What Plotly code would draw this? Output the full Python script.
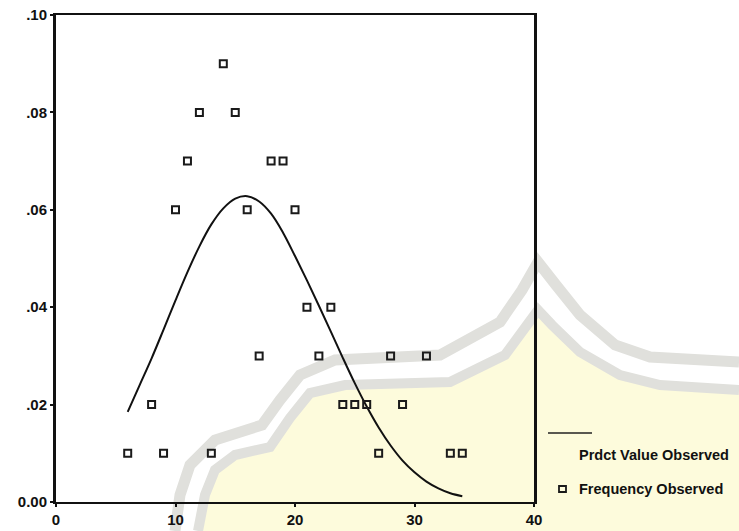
import plotly.graph_objects as go

# Observed relative frequencies
freq_x = [6, 9, 13, 27, 33, 34,
          8, 24, 25, 26, 29,
          17, 22, 28, 31,
          21, 23,
          10, 16, 20,
          11, 18, 19,
          12, 15,
          14]
freq_y = [0.01, 0.01, 0.01, 0.01, 0.01, 0.01,
          0.02, 0.02, 0.02, 0.02, 0.02,
          0.03, 0.03, 0.03, 0.03,
          0.04, 0.04,
          0.06, 0.06, 0.06,
          0.07, 0.07, 0.07,
          0.08, 0.08,
          0.09]

# Predicted values
pred_x = list(range(6, 35))
pred_y = [0.0185, 0.0240, 0.0295, 0.0354, 0.0414, 0.0472, 0.0525, 0.0570,
          0.0603, 0.0623, 0.0628, 0.0617, 0.0592, 0.0553, 0.0505, 0.0455,
          0.0403, 0.0350, 0.0296, 0.0244, 0.0196, 0.0153, 0.0116, 0.0085,
          0.0061, 0.0042, 0.0028, 0.0018, 0.0012]

x_ticks = [0, 10, 20, 30, 40]
y_ticks = [0.0, 0.02, 0.04, 0.06, 0.08, 0.10]
y_tick_text = ["0.00", ".02", ".04", ".06", ".08", ".10"]

W, H = 739, 531
L, R, T, B = 56, 205, 15, 29
PW, PH = W - L - R, H - T - B


def px(xp, yp):
    """pixel position -> paper coordinates"""
    return (xp - L) / PW, (H - B - yp) / PH


def path_of(points, close=False):
    parts = []
    for i, (a, b) in enumerate(points):
        u, v = px(a, b)
        parts.append(("M" if i == 0 else "L") + f"{u:.4f},{v:.4f}")
    return " ".join(parts) + (" Z" if close else "")


FONT = "Liberation Sans, Arial, sans-serif"

fig = go.Figure()

fig.add_trace(go.Scatter(
    x=pred_x, y=pred_y, mode="lines", line=dict(color="#111111", width=2, shape="spline"),
    name="Prdct Value Observed", showlegend=False, hoverinfo="skip"))

fig.add_trace(go.Scatter(
    x=freq_x, y=freq_y, mode="markers",
    marker=dict(symbol="square-open", size=7, color="#1a1a1a", line=dict(width=2, color="#1a1a1a")),
    name="Frequency Observed", showlegend=False))

# faint background emblem
outer = [(175, 531), (180, 495), (190, 465), (215, 440), (262, 425), (280, 400), (300, 375),
         (335, 360), (440, 355), (500, 322), (522, 290), (538, 262), (556, 285), (580, 315),
         (615, 345), (650, 357), (739, 362)]
inner = [(198, 531), (205, 495), (215, 470), (235, 455), (270, 447), (290, 418), (310, 393),
         (345, 385), (450, 382), (505, 355), (527, 325), (538, 310), (552, 325), (580, 352),
         (620, 375), (660, 385), (739, 390)]
shapes = [
    dict(type="path", xref="paper", yref="paper", layer="below",
         path=path_of(inner + [(739, 531)], close=True),
         fillcolor="#fdfbdc", line=dict(width=0)),
    dict(type="path", xref="paper", yref="paper", layer="below",
         path=path_of(outer), line=dict(color="#e0e0dc", width=11)),
    dict(type="path", xref="paper", yref="paper", layer="below",
         path=path_of(inner), line=dict(color="#e0e0dc", width=10)),
]

# legend keys
lx0, ly = px(548, 433)
lx1, _ = px(592, 433)
shapes.append(dict(type="line", xref="paper", yref="paper", x0=lx0, x1=lx1, y0=ly, y1=ly,
                   line=dict(color="#222222", width=1.5)))
sx0, sy0 = px(559, 492)
sx1, sy1 = px(566, 486)
shapes.append(dict(type="rect", xref="paper", yref="paper", x0=sx0, x1=sx1, y0=sy0, y1=sy1,
                   line=dict(color="#1a1a1a", width=1.8), fillcolor="rgba(0,0,0,0)"))

annotations = []
for label, yy in [("Prdct Value Observed", 455), ("Frequency Observed", 489)]:
    ax, ay = px(577, yy)
    annotations.append(dict(xref="paper", yref="paper", x=ax, y=ay, text=label, showarrow=False,
                            xanchor="left", yanchor="middle",
                            font=dict(family=FONT, size=14.5, color="#111111", weight="bold")))

fig.update_layout(
    width=W, height=H, autosize=False,
    margin=dict(l=L, r=R, t=T, b=B, pad=0),
    paper_bgcolor="white", plot_bgcolor="rgba(0,0,0,0)",
    shapes=shapes, annotations=annotations, showlegend=False,
    font=dict(family=FONT, size=15, color="#111111", weight="bold"),
)
fig.update_xaxes(range=[0, 40], tickvals=x_ticks, ticks="outside", ticklen=3, tickwidth=2,
                 tickcolor="#111111", showline=True, linecolor="#111111", linewidth=2,
                 mirror=True, showgrid=False, zeroline=False, automargin=False,
                 tickfont=dict(family=FONT, size=15, color="#111111", weight="bold"))
fig.update_yaxes(range=[0, 0.10], tickvals=y_ticks, ticktext=y_tick_text, ticks="outside",
                 ticklen=3, tickwidth=2, tickcolor="#111111", showline=True, linecolor="#111111",
                 linewidth=3, mirror=True, showgrid=False, zeroline=False, automargin=False,
                 tickfont=dict(family=FONT, size=15, color="#111111", weight="bold"))

fig.write_html("out.html")
